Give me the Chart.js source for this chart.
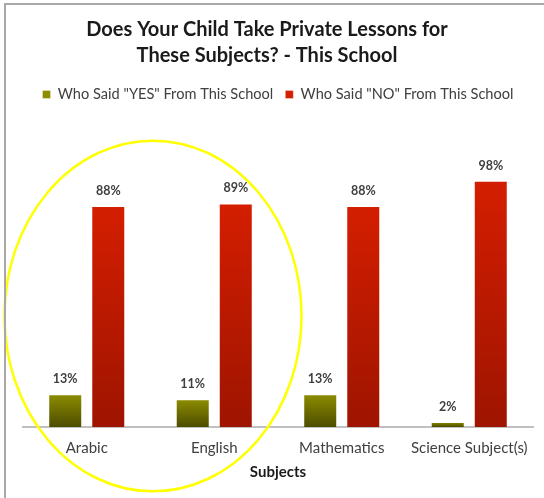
<!DOCTYPE html>
<html>
<head>
<meta charset="utf-8">
<script src="https://cdn.jsdelivr.net/npm/chart.js@4.4.0/dist/chart.umd.min.js"></script>
<style>
  html, body { margin: 0; padding: 0; background: #fff; }
  #wrap { position: relative; width: 544px; height: 498px; overflow: hidden; }
  #frame { position: absolute; left: 4px; top: 3px; width: 600px; height: 600px;
           border-left: 2px solid #a8a8a8; border-top: 2px solid #a8a8a8; pointer-events: none; }
</style>
</head>
<body>
<div id="wrap">
  <canvas id="chart" width="544" height="498"></canvas>
  <div id="frame"></div>
</div>
<script>
const subjects = ['Arabic', 'English', 'Mathematics', 'Science Subject(s)'];
const yesValues = [13, 11, 13, 2];
const noValues = [88, 89, 88, 98];
const titleLines = ['Does Your Child Take Private Lessons for', 'These Subjects? - This School'];

// vertical gradient per bar, like the Excel fill
function barFill(top, mid, bottom) {
    return function (ctx) {
        if (ctx.type !== 'data') return mid;
        const y = ctx.chart.scales.y;
        if (!y) return mid;
        const y0 = y.getPixelForValue(0);
        const y1 = y.getPixelForValue(ctx.raw);
        if (!isFinite(y0) || !isFinite(y1) || y0 === y1) return mid;
        const g = ctx.chart.ctx.createLinearGradient(0, y1, 0, y0);
        g.addColorStop(0, top);
        g.addColorStop(1, bottom);
        return g;
    };
}

const legendSpacer = {
    id: 'legendSpacer',
    beforeInit(chart) {
        const fit = chart.legend.fit;
        chart.legend.fit = function () {
            fit.call(this);
            this.height += 64;
        };
    },
    afterLayout(chart) {
        // title sits a bit left of the plot centre in the original
        chart.titleBlock.left -= 11;
        chart.titleBlock.right -= 11;
    }
};

const valueLabels = {
    id: 'valueLabels',
    afterDatasetsDraw(chart) {
        const c = chart.ctx;
        c.save();
        c.font = 'bold 12.5px Lato';
        c.fillStyle = '#404040';
        c.textAlign = 'center';
        c.textBaseline = 'middle';
        chart.data.datasets.forEach((ds, i) => {
            chart.getDatasetMeta(i).data.forEach((bar, j) => {
                c.fillText(ds.data[j] + '%', bar.x, bar.y - 15);
            });
        });
        c.restore();
    }
};

// yellow highlight around the first two groups
const highlight = {
    id: 'highlight',
    afterDraw(chart) {
        const x = chart.scales.x, y = chart.scales.y;
        const step = x.getPixelForValue(1) - x.getPixelForValue(0);
        const cx = (x.getPixelForValue(0) + x.getPixelForValue(1)) / 2 + 2.5;
        const cy = y.getPixelForValue(44.2);
        const rx = step * 1.165;
        const ry = y.getPixelForValue(0) - y.getPixelForValue(69.8);
        const c = chart.ctx;
        c.save();
        c.beginPath();
        c.ellipse(cx, cy, rx, ry, 0, 0, Math.PI * 2);
        c.strokeStyle = '#ffff00';
        c.lineWidth = 2.5;
        c.stroke();
        c.restore();
    }
};

new Chart(document.getElementById('chart'), {
    type: 'bar',
    data: {
        labels: subjects,
        datasets: [{
            label: 'Who Said "YES" From This School',
            data: yesValues,
            backgroundColor: barFill('#8d8d00', '#6e6e00', '#4c4c00'),
            borderColor: 'rgba(255,255,255,0.35)',
            borderWidth: 1,
            categoryPercentage: 0.675,
            barPercentage: 0.79
        }, {
            label: 'Who Said "NO" From This School',
            data: noValues,
            backgroundColor: barFill('#d41e00', '#c01a00', '#9e1400'),
            borderColor: 'rgba(255,255,255,0.35)',
            borderWidth: 1,
            categoryPercentage: 0.675,
            barPercentage: 0.79
        }]
    },
    options: {
        responsive: false,
        animation: false,
        layout: { padding: { left: 23, right: 11, top: 0, bottom: 17 } },
        plugins: {
            title: {
                display: true,
                text: titleLines,
                color: '#1a1a1a',
                font: { family: 'Lato', size: 20, weight: 'bold', lineHeight: 1.28 },
                padding: { top: 17, bottom: 7 }
            },
            legend: {
                labels: {
                    color: '#404040',
                    font: { family: 'Lato', size: 14.6 },
                    boxWidth: 8,
                    boxHeight: 8,
                    padding: 12
                }
            },
            tooltip: { enabled: false }
        },
        scales: {
            x: {
                grid: { display: false },
                border: { color: '#c0c0c0', width: 2 },
                ticks: { color: '#404040', font: { family: 'Lato', size: 15 }, padding: 4 },
                title: { display: true, text: 'Subjects', color: '#1a1a1a',
                         font: { family: 'Lato', size: 15, weight: 'bold' },
                         padding: { top: 2, bottom: 0 } }
            },
            y: { display: false, min: 0, max: 100 }
        }
    },
    plugins: [legendSpacer, valueLabels, highlight]
});
</script>
</body>
</html>
